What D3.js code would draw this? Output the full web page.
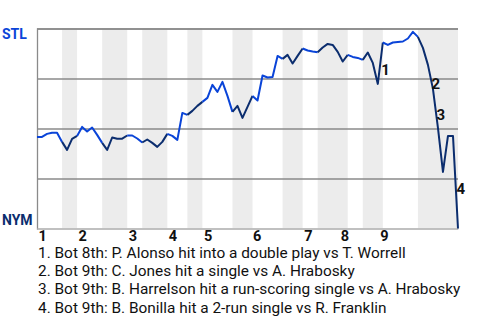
<!DOCTYPE html>
<html>
<head>
<meta charset="utf-8">
<script src="https://cdn.jsdelivr.net/npm/d3@7"></script>
<style>
  body { margin: 0; background: #fff; }
  svg { display: block; font-family: Roboto, sans-serif; }
</style>
</head>
<body>
<div id="chart"></div>
<script>
// STL win probability after each event (index = event number)
const winProb = [
  0.458, 0.458, 0.473, 0.479, 0.479, 0.433, 0.393, 0.448, 0.463, 0.508,
  0.485, 0.505, 0.468, 0.428, 0.393, 0.455, 0.449, 0.449, 0.465, 0.465,
  0.450, 0.430, 0.445, 0.428, 0.408, 0.433, 0.473, 0.463, 0.443, 0.578,
  0.568, 0.588, 0.613, 0.633, 0.653, 0.718, 0.683, 0.733, 0.663, 0.583,
  0.613, 0.553, 0.608, 0.663, 0.640, 0.765, 0.755, 0.758, 0.863, 0.848,
  0.868, 0.825, 0.863, 0.900, 0.890, 0.885, 0.881, 0.905, 0.923, 0.918,
  0.883, 0.835, 0.868, 0.858, 0.853, 0.843, 0.880, 0.828, 0.723, 0.930,
  0.918, 0.930, 0.933, 0.935, 0.950, 0.983, 0.958, 0.903, 0.818, 0.698,
  0.503, 0.283, 0.463, 0.463, 0.000
];

// event index where each half inning starts / ends (top 1st, bot 1st, ...)
const halfBounds = [0, 5, 8, 13, 18, 21, 26, 30, 33, 39, 43, 49, 53, 56, 62, 65, 69, 76, 84];

// inning labels and where they sit on the event axis
const innings = ["1", "2", "3", "4", "5", "6", "7", "8", "9"];
const inningPos = [0, 8, 18, 26, 33, 42.8, 53, 60.3, 68.2];

// key plays
const keyIdx = [69, 79, 80, 84];
const keyText = [
  "1. Bot 8th: P. Alonso hit into a double play vs T. Worrell",
  "2. Bot 9th: C. Jones hit a single vs A. Hrabosky",
  "3. Bot 9th: B. Harrelson hit a run-scoring single vs A. Hrabosky",
  "4. Bot 9th: B. Bonilla hit a 2-run single vs R. Franklin"
];

const teams = ["STL", "NYM"];
const teamColors = ["#0a44d8", "#0b2d6e"];

const width = 480;
const height = 320;
const margin = { top: 28.5, right: 22, bottom: 91.5, left: 37 };

const svg = d3.select("#chart")
  .append("svg")
  .attr("width", width)
  .attr("height", height);

const x = d3.scaleLinear()
  .domain([0, winProb.length - 1])
  .range([margin.left, width - margin.right]);

const y = d3.scaleLinear()
  .domain([0, 1])
  .range([height - margin.bottom, margin.top]);

// shade the bottom halves
const halves = d3.range(halfBounds.length - 1).map(k => ({ k, a: halfBounds[k], b: halfBounds[k + 1] }));
svg.append("g")
  .selectAll("rect")
  .data(halves.filter(d => d.k % 2 === 1))
  .join("rect")
  .attr("x", d => x(d.a))
  .attr("width", d => x(d.b) - x(d.a))
  .attr("y", y(1))
  .attr("height", y(0) - y(1))
  .attr("fill", "#ececec");

// gridlines
const yAxis = d3.axisLeft(y)
  .tickValues([0.25, 0.5, 0.75, 1])
  .tickSize(-(x.range()[1] - x.range()[0]))
  .tickFormat("");
const gy = svg.append("g")
  .attr("transform", `translate(${margin.left},0)`)
  .call(yAxis);
gy.selectAll(".tick line").attr("stroke", "#8a8a8a").attr("stroke-width", 1.3);
gy.select(".domain").attr("stroke", "#8a8a8a").attr("stroke-width", 1.3);

// x axis with inning numbers
const xAxis = d3.axisBottom(x)
  .tickValues(inningPos)
  .tickSize(0)
  .tickFormat((d, i) => innings[i]);
const gx = svg.append("g")
  .attr("transform", `translate(0,${y(0)})`)
  .call(xAxis);
gx.select(".domain").attr("stroke", "#c8c8c8").attr("stroke-width", 1.3);
gx.selectAll(".tick text")
  .attr("text-anchor", "start")
  .attr("dx", 1)
  .attr("y", 0)
  .attr("dy", 12.5)
  .attr("font-family", "Roboto")
  .attr("font-weight", "bold")
  .attr("font-size", 14.5)
  .attr("fill", "#111");

// team labels
svg.append("text")
  .attr("x", 2)
  .attr("y", y(1) + 10.5)
  .text(teams[0])
  .attr("font-weight", "bold")
  .attr("font-size", 14)
  .attr("fill", teamColors[0]);
svg.append("text")
  .attr("x", 2)
  .attr("y", y(0) - 3.5)
  .text(teams[1])
  .attr("font-weight", "bold")
  .attr("font-size", 14)
  .attr("fill", teamColors[1]);

// win probability line, coloured by batting team
const line = d3.line()
  .x(d => x(d))
  .y(d => y(winProb[d]));
svg.append("g")
  .selectAll("path")
  .data(halves)
  .join("path")
  .attr("d", d => line(d3.range(d.a, d.b + 1)))
  .attr("fill", "none")
  .attr("stroke", d => d.k % 2 === 0 ? teamColors[0] : teamColors[1])
  .attr("stroke-width", 2)
  .attr("stroke-linejoin", "round");

// key play markers
svg.append("g")
  .selectAll("text")
  .data(keyIdx)
  .join("text")
  .attr("x", d => x(d) - 1.5)
  .attr("y", d => (y(winProb[d]) + y(winProb[d - 1])) / 2 + 12)
  .text((d, i) => i + 1)
  .attr("font-weight", "bold")
  .attr("font-size", 15)
  .attr("fill", "#111");

// legend of key plays
svg.append("g")
  .selectAll("text")
  .data(keyText)
  .join("text")
  .attr("x", margin.left + 1)
  .attr("y", (d, i) => 257.5 + i * 18.4)
  .text(d => d)
  .attr("font-size", 15.4)
  .attr("fill", "#111");
</script>
</body>
</html>
